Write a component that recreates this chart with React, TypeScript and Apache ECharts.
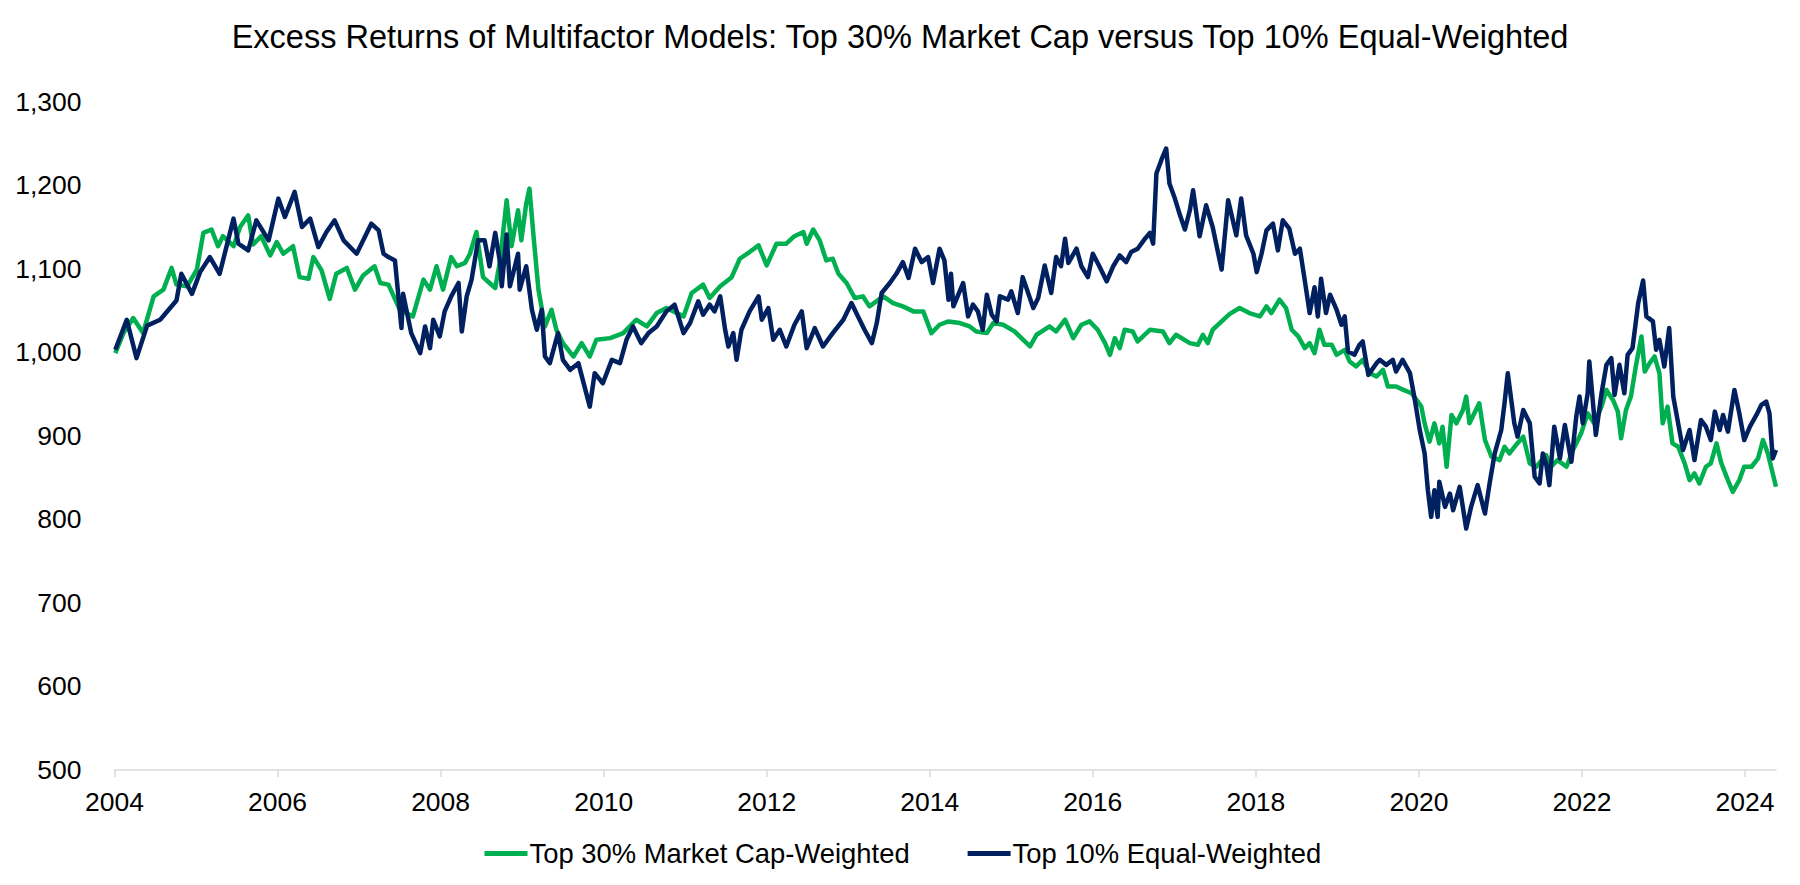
import React, { useEffect, useRef } from 'react';
import * as echarts from 'echarts';

const TITLE = 'Excess Returns of Multifactor Models: Top 30% Market Cap versus Top 10% Equal-Weighted';
const SERIES_NAMES = ['Top 30% Market Cap-Weighted', 'Top 10% Equal-Weighted'];
const SERIES_COLORS = ['#00B050', '#002060'];
const X_MIN = 2004;
const X_MAX = 2024.38;
const X_STEP = 2;
const Y_MIN = 500;
const Y_MAX = 1300;
const Y_STEP = 100;

// Top 30% Market Cap-Weighted (green)
const mcapYears = [
  2004.01, 2004.11, 2004.23, 2004.35, 2004.48, 2004.60, 2004.70, 2004.76, 2004.89, 2005.01,
  2005.09, 2005.19, 2005.27, 2005.33, 2005.46, 2005.54, 2005.64, 2005.70, 2005.80, 2005.91,
  2005.99, 2006.07, 2006.19, 2006.27, 2006.38, 2006.44, 2006.54, 2006.64, 2006.72, 2006.85,
  2006.95, 2007.05, 2007.19, 2007.26, 2007.36, 2007.50, 2007.66, 2007.79, 2007.87, 2007.95,
  2008.03, 2008.13, 2008.20, 2008.30, 2008.36, 2008.44, 2008.52, 2008.60, 2008.67, 2008.73,
  2008.81, 2008.87, 2008.95, 2008.99, 2009.05, 2009.09, 2009.14, 2009.20, 2009.28, 2009.36,
  2009.42, 2009.50, 2009.63, 2009.73, 2009.83, 2009.91, 2010.08, 2010.24, 2010.40, 2010.53,
  2010.65, 2010.77, 2010.98, 2011.08, 2011.22, 2011.30, 2011.43, 2011.57, 2011.67, 2011.79,
  2011.90, 2012.00, 2012.12, 2012.24, 2012.34, 2012.45, 2012.49, 2012.57, 2012.65, 2012.73,
  2012.81, 2012.88, 2012.98, 2013.08, 2013.18, 2013.26, 2013.43, 2013.55, 2013.67, 2013.80,
  2013.92, 2014.02, 2014.12, 2014.23, 2014.37, 2014.49, 2014.57, 2014.70, 2014.78, 2014.90,
  2015.04, 2015.23, 2015.31, 2015.47, 2015.55, 2015.66, 2015.76, 2015.86, 2015.96, 2016.06,
  2016.15, 2016.21, 2016.27, 2016.33, 2016.39, 2016.49, 2016.55, 2016.70, 2016.86, 2016.94,
  2017.02, 2017.19, 2017.29, 2017.35, 2017.41, 2017.47, 2017.58, 2017.68, 2017.80, 2017.92,
  2018.05, 2018.13, 2018.19, 2018.29, 2018.37, 2018.44, 2018.52, 2018.60, 2018.66, 2018.72,
  2018.78, 2018.84, 2018.93, 2018.99, 2019.09, 2019.15, 2019.23, 2019.31, 2019.40, 2019.48,
  2019.56, 2019.62, 2019.72, 2019.81, 2019.91, 2019.97, 2020.03, 2020.07, 2020.13, 2020.19,
  2020.25, 2020.29, 2020.34, 2020.40, 2020.46, 2020.54, 2020.58, 2020.62, 2020.68, 2020.74,
  2020.81, 2020.89, 2020.99, 2021.05, 2021.11, 2021.19, 2021.28, 2021.36, 2021.44, 2021.56,
  2021.62, 2021.70, 2021.81, 2021.89, 2021.99, 2022.07, 2022.15, 2022.24, 2022.30, 2022.38,
  2022.44, 2022.48, 2022.54, 2022.60, 2022.66, 2022.73, 2022.77, 2022.83, 2022.89, 2022.95,
  2022.99, 2023.05, 2023.11, 2023.18, 2023.26, 2023.32, 2023.38, 2023.44, 2023.52, 2023.58,
  2023.65, 2023.71, 2023.79, 2023.85, 2023.93, 2023.99, 2024.08, 2024.16, 2024.22, 2024.28,
  2024.34, 2024.38,
];
const mcapValues = [
  999, 1023, 1041, 1023, 1067, 1075, 1101, 1081, 1079, 1099,
  1143, 1147, 1127, 1139, 1127, 1150, 1164, 1129, 1139, 1116,
  1132, 1118, 1127, 1090, 1088, 1114, 1098, 1064, 1094, 1101,
  1075, 1092, 1103, 1083, 1081, 1051, 1043, 1087, 1075, 1103,
  1075, 1114, 1103, 1107, 1118, 1144, 1090, 1083, 1077, 1110,
  1182, 1127, 1170, 1134, 1178, 1196, 1139, 1075, 1031, 1051,
  1027, 1011, 995, 1011, 995, 1015, 1017, 1023, 1039, 1031,
  1047, 1053, 1043, 1071, 1081, 1065, 1079, 1090, 1112, 1120,
  1128, 1104, 1130, 1130, 1139, 1144, 1130, 1147, 1134, 1110,
  1112, 1094, 1083, 1065, 1067, 1055, 1067, 1059, 1055, 1049,
  1049, 1023, 1033, 1037, 1035, 1031, 1025, 1023, 1035, 1033,
  1025, 1007, 1021, 1031, 1025, 1039, 1017, 1033, 1037, 1027,
  1011, 997, 1017, 1005, 1027, 1025, 1013, 1027, 1025, 1011,
  1021, 1011, 1009, 1021, 1011, 1027, 1037, 1046, 1053, 1047,
  1043, 1055, 1047, 1063, 1053, 1027, 1019, 1005, 1011, 999,
  1027, 1009, 1009, 997, 1003, 989, 983, 991, 975, 971,
  979, 959, 959, 955, 951, 943, 935, 915, 893, 915,
  891, 911, 863, 925, 915, 931, 947, 915, 927, 939,
  895, 875, 871, 887, 879, 889, 899, 867, 863, 877,
  863, 871, 863, 883, 903, 927, 915, 935, 955, 943,
  929, 897, 931, 947, 983, 1019, 977, 987, 995, 975,
  915, 935, 891, 887, 867, 847, 855, 843, 863, 867,
  891, 867, 847, 833, 847, 863, 863, 873, 895, 879,
  855, 839,
];

// Top 10% Equal-Weighted (navy)
const ewYears = [
  2004.01, 2004.15, 2004.27, 2004.40, 2004.56, 2004.76, 2004.82, 2004.95, 2005.05, 2005.17,
  2005.29, 2005.46, 2005.52, 2005.64, 2005.74, 2005.89, 2006.01, 2006.09, 2006.21, 2006.30,
  2006.40, 2006.50, 2006.60, 2006.70, 2006.81, 2006.97, 2007.15, 2007.24, 2007.30, 2007.36,
  2007.44, 2007.52, 2007.54, 2007.64, 2007.75, 2007.81, 2007.87, 2007.91, 2007.99, 2008.05,
  2008.13, 2008.22, 2008.26, 2008.32, 2008.38, 2008.46, 2008.54, 2008.60, 2008.67, 2008.73,
  2008.75, 2008.81, 2008.85, 2008.95, 2008.97, 2009.05, 2009.12, 2009.18, 2009.24, 2009.28,
  2009.34, 2009.44, 2009.50, 2009.59, 2009.69, 2009.83, 2009.89, 2009.99, 2010.10, 2010.20,
  2010.28, 2010.36, 2010.46, 2010.55, 2010.65, 2010.77, 2010.87, 2010.98, 2011.06, 2011.16,
  2011.22, 2011.30, 2011.36, 2011.43, 2011.49, 2011.53, 2011.59, 2011.63, 2011.69, 2011.79,
  2011.90, 2011.94, 2012.02, 2012.08, 2012.16, 2012.24, 2012.34, 2012.43, 2012.49, 2012.59,
  2012.69, 2012.81, 2012.94, 2013.04, 2013.12, 2013.20, 2013.29, 2013.35, 2013.41, 2013.51,
  2013.59, 2013.67, 2013.74, 2013.82, 2013.90, 2013.98, 2014.04, 2014.12, 2014.18, 2014.23,
  2014.26, 2014.29, 2014.41, 2014.47, 2014.53, 2014.59, 2014.65, 2014.70, 2014.76, 2014.82,
  2014.86, 2014.96, 2015.00, 2015.08, 2015.14, 2015.27, 2015.33, 2015.41, 2015.49, 2015.55,
  2015.61, 2015.66, 2015.70, 2015.80, 2015.86, 2015.94, 2016.00, 2016.08, 2016.17, 2016.25,
  2016.33, 2016.41, 2016.47, 2016.55, 2016.64, 2016.70, 2016.74, 2016.78, 2016.84, 2016.90,
  2016.94, 2017.00, 2017.07, 2017.13, 2017.19, 2017.23, 2017.31, 2017.39, 2017.47, 2017.58,
  2017.66, 2017.76, 2017.82, 2017.88, 2017.97, 2018.01, 2018.07, 2018.13, 2018.21, 2018.27,
  2018.33, 2018.41, 2018.48, 2018.54, 2018.60, 2018.66, 2018.72, 2018.76, 2018.80, 2018.86,
  2018.91, 2018.99, 2019.05, 2019.09, 2019.13, 2019.21, 2019.27, 2019.31, 2019.38, 2019.48,
  2019.52, 2019.60, 2019.68, 2019.72, 2019.80, 2019.89, 2019.95, 2020.01, 2020.07, 2020.11,
  2020.15, 2020.19, 2020.23, 2020.25, 2020.32, 2020.38, 2020.42, 2020.50, 2020.58, 2020.64,
  2020.72, 2020.81, 2020.87, 2020.93, 2021.01, 2021.05, 2021.09, 2021.17, 2021.21, 2021.28,
  2021.36, 2021.42, 2021.48, 2021.52, 2021.56, 2021.60, 2021.66, 2021.73, 2021.79, 2021.87,
  2021.93, 2021.97, 2022.01, 2022.07, 2022.09, 2022.17, 2022.24, 2022.30, 2022.36, 2022.40,
  2022.46, 2022.52, 2022.56, 2022.62, 2022.69, 2022.75, 2022.79, 2022.87, 2022.91, 2022.95,
  2023.01, 2023.07, 2023.12, 2023.18, 2023.24, 2023.32, 2023.38, 2023.46, 2023.52, 2023.58,
  2023.63, 2023.69, 2023.73, 2023.79, 2023.87, 2023.93, 2023.99, 2024.06, 2024.14, 2024.20,
  2024.26, 2024.30, 2024.34, 2024.38,
];
const ewValues = [
  1003, 1039, 993, 1032, 1039, 1062, 1094, 1070, 1096, 1114,
  1094, 1160, 1130, 1122, 1158, 1134, 1184, 1162, 1192, 1150,
  1160, 1126, 1144, 1158, 1134, 1118, 1154, 1146, 1118, 1114,
  1110, 1029, 1070, 1023, 999, 1031, 1005, 1039, 1019, 1049,
  1067, 1083, 1025, 1067, 1087, 1134, 1134, 1103, 1143, 1107,
  1079, 1141, 1079, 1118, 1075, 1103, 1051, 1027, 1051, 995,
  987, 1023, 991, 979, 987, 935, 975, 963, 991, 987,
  1015, 1031, 1011, 1023, 1031, 1049, 1057, 1023, 1035, 1061,
  1045, 1057, 1049, 1067, 1027, 1007, 1023, 991, 1027, 1049,
  1067, 1039, 1053, 1015, 1027, 1007, 1033, 1049, 1005, 1029,
  1007, 1023, 1039, 1059, 1043, 1027, 1011, 1035, 1071, 1083,
  1094, 1108, 1089, 1124, 1108, 1114, 1083, 1124, 1110, 1063,
  1094, 1055, 1083, 1043, 1057, 1049, 1027, 1069, 1045, 1037,
  1067, 1063, 1073, 1047, 1090, 1053, 1065, 1104, 1071, 1114,
  1103, 1136, 1107, 1124, 1103, 1090, 1118, 1103, 1085, 1103,
  1116, 1108, 1120, 1124, 1136, 1143, 1130, 1214, 1230, 1244,
  1202, 1186, 1164, 1147, 1170, 1194, 1139, 1176, 1150, 1099,
  1182, 1140, 1184, 1140, 1118, 1096, 1118, 1146, 1154, 1122,
  1158, 1148, 1118, 1124, 1086, 1047, 1078, 1043, 1088, 1047,
  1069, 1051, 1033, 1043, 1001, 997, 1009, 1013, 973, 987,
  991, 985, 991, 977, 991, 975, 943, 907, 879, 835,
  803, 835, 803, 845, 815, 831, 811, 839, 789, 815,
  841, 807, 845, 879, 907, 939, 975, 915, 899, 931,
  915, 851, 843, 879, 867, 841, 911, 873, 913, 869,
  923, 947, 915, 951, 989, 901, 951, 985, 993, 949,
  985, 951, 997, 1005, 1059, 1086, 1043, 1037, 1003, 1015,
  983, 1029, 947, 915, 883, 907, 871, 919, 911, 895,
  929, 907, 925, 905, 955, 927, 895, 911, 925, 937,
  941, 927, 873, 883,
];

const FONT = '"Liberation Sans", Arial, Helvetica, sans-serif';

function zip(xs: number[], ys: number[]): [number, number][] {
  const n = Math.min(xs.length, ys.length);
  const out: [number, number][] = [];
  for (let i = 0; i < n; i++) out.push([xs[i], ys[i]]);
  return out;
}

export default function App() {
  const ref = useRef<HTMLDivElement>(null);

  useEffect(() => {
    if (!ref.current) return;
    const chart = echarts.init(ref.current, undefined, { renderer: 'svg' });
    const seriesData = [zip(mcapYears, mcapValues), zip(ewYears, ewValues)];
    chart.setOption({
      animation: false,
      backgroundColor: '#ffffff',
      textStyle: { fontFamily: FONT },
      title: {
        text: TITLE,
        left: 'center',
        top: 15,
        textStyle: { fontFamily: FONT, fontSize: 32.5, fontWeight: 'normal', color: '#000000' },
      },
      legend: {
        data: SERIES_NAMES,
        left: 479.5,
        top: 835,
        icon: 'rect',
        itemWidth: 43,
        itemHeight: 5,
        itemGap: 58,
        textStyle: { fontFamily: FONT, fontSize: 27.4, color: '#000000', padding: [0, 0, 0, -3] },
      },
      grid: {
        left: 114.5,
        right: 24,
        top: 101.7,
        bottom: 115,
        containLabel: false,
        outerBoundsMode: 'none',
      },
      xAxis: {
        type: 'value',
        min: X_MIN,
        max: X_MAX,
        interval: X_STEP,
        axisLine: { show: true, lineStyle: { color: '#D9D9D9', width: 1.5 } },
        axisTick: { show: true, length: 7, lineStyle: { color: '#D9D9D9', width: 1.5 } },
        splitLine: { show: false },
        axisLabel: {
          margin: 18,
          fontFamily: FONT,
          fontSize: 26.5,
          color: '#000000',
          showMaxLabel: false,
          formatter: (v: number) => (Number.isInteger(v) ? String(v) : ''),
        },
      },
      yAxis: {
        type: 'value',
        min: Y_MIN,
        max: Y_MAX,
        interval: Y_STEP,
        axisLine: { show: false },
        axisTick: { show: false },
        splitLine: { show: false },
        axisLabel: {
          margin: 33,
          fontFamily: FONT,
          fontSize: 26.5,
          color: '#000000',
          formatter: (v: number) => v.toLocaleString('en-US'),
        },
      },
      series: SERIES_NAMES.map((name, i) => ({
        name,
        type: 'line',
        data: seriesData[i],
        showSymbol: false,
        symbol: 'none',
        lineStyle: { color: SERIES_COLORS[i], width: 4.5, join: 'round' },
        itemStyle: { color: SERIES_COLORS[i] },
        z: 2 + i,
      })),
    });
    return () => chart.dispose();
  }, []);

  return (
    <div
      ref={ref}
      style={{ position: 'fixed', left: 0, top: 0, width: 1800, height: 885, background: '#fff' }}
    />
  );
}
